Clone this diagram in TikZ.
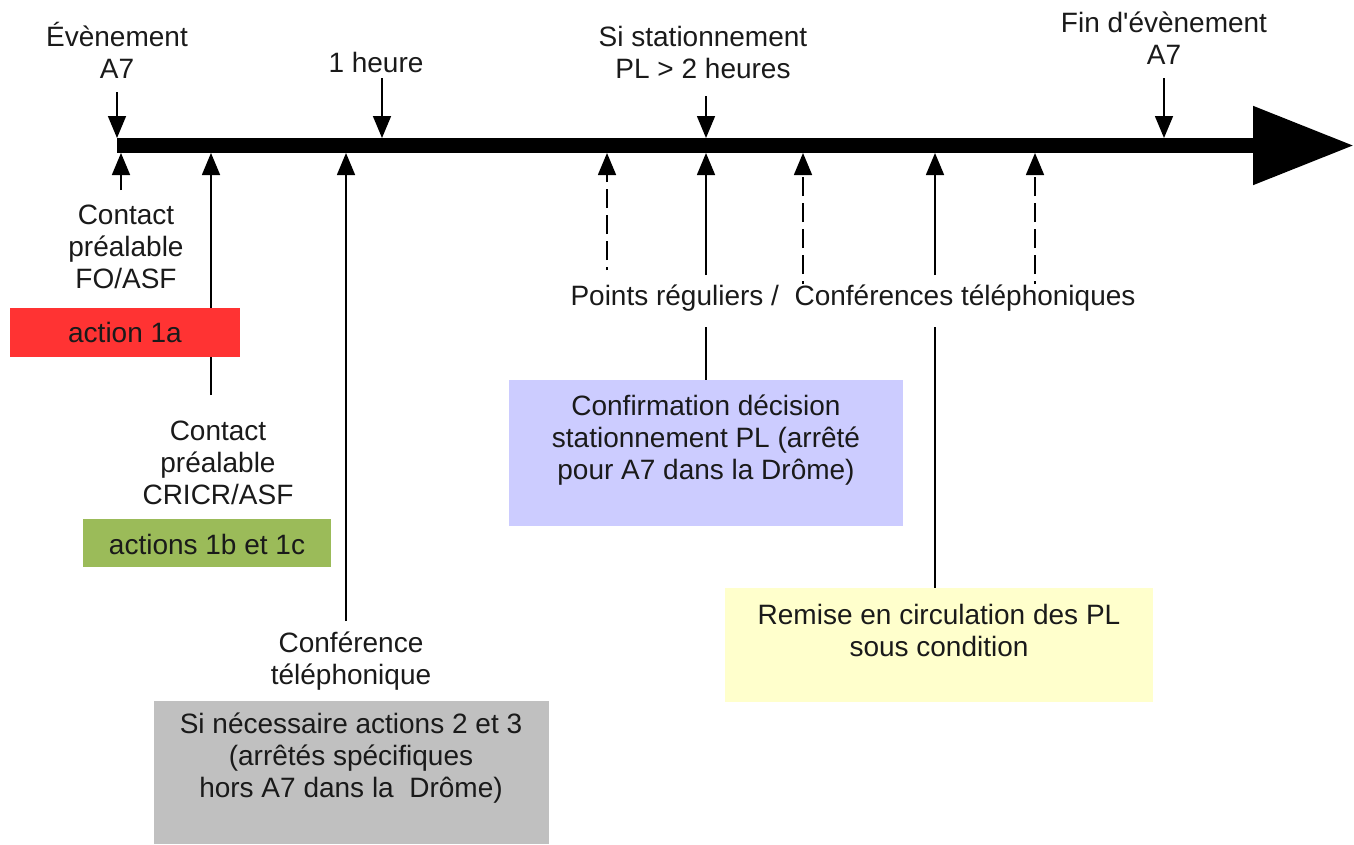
\documentclass[tikz,border=0pt]{standalone}
\usepackage{fontspec}
\setmainfont{Liberation Sans}[Ligatures=TeXOff]
\usetikzlibrary{arrows.meta}
\definecolor{redbox}{HTML}{FF3333}
\definecolor{greenbox}{HTML}{9BBB59}
\definecolor{graybox}{HTML}{C0C0C0}
\definecolor{bluebox}{HTML}{CCCCFF}
\definecolor{yellowbox}{HTML}{FFFFCC}
\definecolor{ink}{HTML}{1A1A1A}
\begin{document}
\begin{tikzpicture}[x=1pt,y=-1pt,
  lbl/.style={align=center, font=\fontsize{28}{32}\selectfont, inner sep=0pt, text=ink},
  colbox/.style={fill=#1, draw=none, inner sep=0pt, anchor=north west},
  tick/.style={line width=1.6pt, -{Triangle[length=22pt,width=18pt]}},
  dtick/.style={tick, dash pattern=on 19pt off 7pt, dash phase=16pt},
  stem/.style={line width=1.6pt},
  axis/.style={line width=15pt, -{Triangle[length=101pt,width=75pt]}}
]
\useasboundingbox (0,0) rectangle (1354,844);

% timeline
\coordinate (t0) at (117,145.5);
\coordinate (tend) at (1354,145.5);
\draw[axis] (t0) -- (tend);

% points on the bar (top / bottom edges)
\coordinate (evT)  at (117,138);
\coordinate (h1T)  at (382,138);
\coordinate (siT)  at (706,138);
\coordinate (finT) at (1164,138);
\coordinate (b121) at (121,153);
\coordinate (b211) at (211,153);
\coordinate (b346) at (346,153);
\coordinate (b607) at (607,153);
\coordinate (b706) at (706,153);
\coordinate (b803) at (803,153);
\coordinate (b935) at (935,153);
\coordinate (b1035) at (1035,153);

% free ends
\coordinate (evS)  at (117,92);
\coordinate (h1S)  at (382,78);
\coordinate (siS)  at (706,96);
\coordinate (finS) at (1164,78);
\coordinate (s121) at (121,190);
\coordinate (s211) at (211,395);
\coordinate (s346) at (346,621);
\coordinate (s607) at (607,270);
\coordinate (s706) at (706,275);
\coordinate (s803) at (803,284);
\coordinate (s935) at (935,275);
\coordinate (s1035) at (1035,284);
\coordinate (u706) at (706,327);
\coordinate (u935) at (935,327);

% top labels
\node[lbl] (ev)  at (117,50) {Évènement\\A7};
\node[lbl] (h1)  at (376,62) {1 heure};
\node[lbl] (si)  at (703,52) {Si stationnement\\PL > 2 heures};
\node[lbl] (fin) at (1164,38) {Fin d'évènement\\A7};

\draw[tick] (evS) -- (evT);
\draw[tick] (h1S) -- (h1T);
\draw[tick] (siS) -- (siT);
\draw[tick] (finS) -- (finT);

% upward arrows
\draw[tick] (s121) -- (b121);
\draw[tick] (s211) -- (b211);
\draw[tick] (s346) -- (b346);
\draw[dtick] (s607) -- (b607);
\draw[tick] (s706) -- (b706);
\draw[dtick] (s803) -- (b803);
\draw[tick] (s935) -- (b935);
\draw[dtick] (s1035) -- (b1035);

% lower labels
\node[lbl] (c1)   at (126,247) {Contact\\préalable\\FO/ASF};
\node[lbl] (c2)   at (218,463) {Contact\\préalable\\CRICR/ASF};
\node[lbl] (conf) at (351,661) {Conférence\\téléphonique};
\node[lbl] (pts)  at (853,298) {Points réguliers /\ \ Conférences téléphoniques};

% boxes
\node[colbox=redbox, minimum width=230pt, minimum height=49pt] (a1box) at (10,308) {};
\node[lbl] (a1) at (125,332) {action 1a};
\node[colbox=greenbox, minimum width=248pt, minimum height=48pt] (a2box) at (83,519) {};
\node[lbl] (a2) at (207,544) {actions 1b et 1c};
\node[colbox=graybox, minimum width=395pt, minimum height=143pt] (a3box) at (154,701) {};
\node[lbl] (a3) at (351,758) {Si nécessaire actions 2 et 3\\(arrêtés spécifiques\\hors A7 dans la\ \ Drôme)};
\node[colbox=bluebox, minimum width=394pt, minimum height=146pt] (a4box) at (509,380) {};
\node[lbl] (a4) at (706,440) {Confirmation décision\\stationnement PL (arrêté\\pour A7 dans la Drôme)};
\node[colbox=yellowbox, minimum width=428pt, minimum height=114pt] (a5box) at (725,588) {};
\node[lbl] (a5) at (939,630) {Remise en circulation des PL\\sous condition};

% stems from label row to boxes
\draw[stem] (u706) -- (a4box.north -| u706);
\draw[stem] (u935) -- (a5box.north -| u935);
\end{tikzpicture}
\end{document}
